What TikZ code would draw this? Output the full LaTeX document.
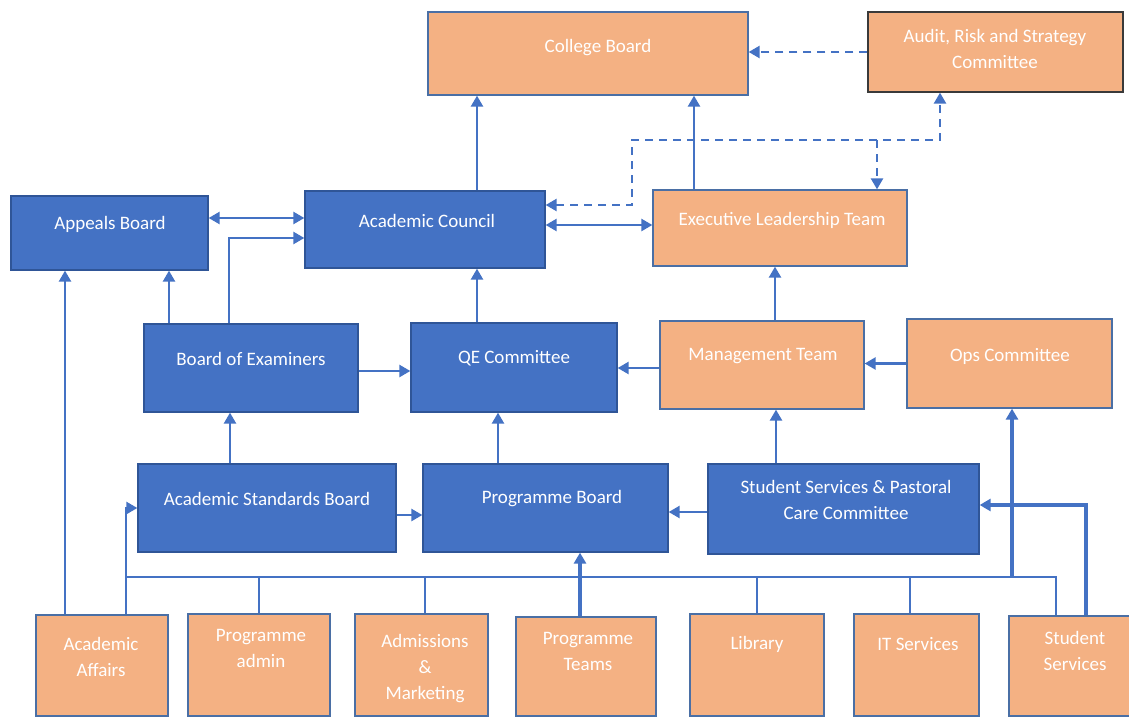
\documentclass[tikz,border=0pt]{standalone}
\usepackage{fontspec}
\setmainfont{Carlito}
\usetikzlibrary{arrows.meta,fit}
\definecolor{cblue}{HTML}{4472C4}
\definecolor{cbluedark}{HTML}{2F5597}
\definecolor{corange}{HTML}{F4B183}
\definecolor{coborder}{HTML}{4A6FA5}
\definecolor{cline}{HTML}{4472C4}
\definecolor{cdark}{HTML}{3A3A3A}
\begin{document}
\begin{tikzpicture}[x=1pt,y=-1pt,
  box/.style={rectangle, inner sep=0pt, line width=1.3pt},
  bluebox/.style={box, fill=cblue, draw=cbluedark},
  orbox/.style={box, fill=corange, draw=coborder},
  txt/.style={text=white, font=\fontsize{19}{26}\selectfont, align=center, inner sep=0pt},
  ln/.style={draw=cline, line width=2.4pt},
  thk/.style={line width=3.4pt},
  arr/.style={ln, -{Triangle[length=11pt,width=12pt]}},
  darr/.style={ln, {Triangle[length=11pt,width=12pt]}-{Triangle[length=11pt,width=12pt]}},
  dsh/.style={dash pattern=on 8pt off 6pt}]
\clip (0,0) rectangle (1129,717);
\fill[white] (0,0) rectangle (1129,717);

% boxes
\node[orbox, fit={(428,12)(748,95)}] (cb) {};
\node[orbox, draw=cdark, fit={(868,12)(1123,92)}] (ars) {};
\node[bluebox, fit={(11,196)(208,270)}] (ab) {};
\node[bluebox, fit={(305,191)(545,268)}] (ac) {};
\node[orbox, fit={(653,190)(907,266)}] (elt) {};
\node[bluebox, fit={(144,324)(358,412)}] (boe) {};
\node[bluebox, fit={(411,323)(617,412)}] (qe) {};
\node[orbox, fit={(660,321)(864,409)}] (mt) {};
\node[orbox, fit={(907,319)(1112,408)}] (ops) {};
\node[bluebox, fit={(138,464)(396,552)}] (asb) {};
\node[bluebox, fit={(423,464)(668,552)}] (pb) {};
\node[bluebox, fit={(708,464)(979,554)}] (ss) {};
\node[orbox, fit={(36,615)(168,716)}] (aa) {};
\node[orbox, fit={(188,614)(330,716)}] (pa) {};
\node[orbox, fit={(355,614)(488,716)}] (adm) {};
\node[orbox, fit={(516,617)(656,716)}] (pt) {};
\node[orbox, fit={(690,614)(824,716)}] (lib) {};
\node[orbox, fit={(854,614)(979,716)}] (it) {};
\node[orbox, fit={(1009,616)(1140,716)}] (ssv) {};

% texts
\node[txt] (cb-t) at (598,48) {College Board};
\node[txt] (ars-t) at (995,49) {Audit, Risk and Strategy\\Committee};
\node[txt] (ab-t) at (110,224) {Appeals Board};
\node[txt] (ac-t) at (427,221) {Academic Council};
\node[txt] (elt-t) at (782,220) {Executive Leadership Team};
\node[txt] (boe-t) at (251,359) {Board of Examiners};
\node[txt] (qe-t) at (514,358) {QE Committee};
\node[txt] (mt-t) at (763,356) {Management Team};
\node[txt] (ops-t) at (1010,356) {Ops Committee};
\node[txt] (asb-t) at (267,499) {Academic Standards Board};
\node[txt] (pb-t) at (552,499) {Programme Board};
\node[txt] (ss-t) at (846,500) {Student Services \& Pastoral\\Care Committee};
\node[txt] (aa-t) at (101,657) {Academic\\Affairs};
\node[txt] (pa-t) at (261,648) {Programme\\admin};
\node[txt] (adm-t) at (425,669) {Admissions\\\&\\Marketing};
\node[txt] (pt-t) at (588,651) {Programme\\Teams};
\node[txt] (lib-t) at (757,644) {Library};
\node[txt] (it-t) at (918,644) {IT Services};
\node[txt] (ssv-t) at (1075,651) {Student\\Services};

% junction coordinates
\coordinate (dj1) at (632,140);
\coordinate (dj2) at (877,140);
\coordinate (bus) at (126,577);
\coordinate (busR) at (1056,577);

% connectors, upper part
\draw[arr] ([xshift=52pt]ac.north) -- ([xshift=52pt]ac.north |- cb.south);
\draw[arr] ([xshift=-86pt]elt.north) -- ([xshift=-86pt]elt.north |- cb.south);
\draw[arr,dsh] (ars.west) -- (ars.west -| cb.east);
\draw[darr] ([yshift=15pt]ab.east) -- ([yshift=15pt]ab.east -| ac.west);
\draw[arr] ([xshift=-22pt]boe.north) |- ([yshift=-8.5pt]ac.west);
\draw[arr] ([xshift=-82pt]boe.north) -- ([xshift=-82pt]boe.north |- ab.south);
\draw[arr] ([xshift=-37pt]aa.north) -- ([xshift=-37pt]aa.north |- ab.south);
\draw[darr] ([yshift=4.5pt]ac.east) -- ([yshift=4.5pt]ac.east -| elt.west);
\draw[darr,dsh] ([yshift=24.5pt]ac.east) -| (dj1) -| ([xshift=-55.5pt]ars.south);
\draw[arr,dsh] (dj2) -- (dj2 |- elt.north);
\draw[arr] ([xshift=-37pt]qe.north) -- ([xshift=-37pt]qe.north |- ac.south);
\draw[arr] ([yshift=-3pt]boe.east) -- ([yshift=-3pt]boe.east -| qe.west);
\draw[arr] ([yshift=-3pt]mt.west) -- ([yshift=-3pt]mt.west -| qe.east);
\draw[arr] (ops.west) -- (ops.west -| mt.east);
\draw[arr] ([xshift=13pt]mt.north) -- ([xshift=13pt]mt.north |- elt.south);

% connectors, lower part
\draw[arr] ([xshift=-37pt]asb.north) -- ([xshift=-37pt]asb.north |- boe.south);
\draw[arr] ([xshift=-47.5pt]pb.north) -- ([xshift=-47.5pt]pb.north |- qe.south);
\draw[arr] ([xshift=-67.5pt]ss.north) -- ([xshift=-67.5pt]ss.north |- mt.south);
\draw[arr] ([yshift=-7pt]asb.east) -- ([yshift=-7pt]asb.east -| pb.west);
\draw[arr] ([yshift=-3pt]ss.west) -- ([yshift=-3pt]ss.west -| pb.east);
\draw[arr,thk] ([xshift=-6pt]pt.north) -- ([xshift=-6pt]pt.north |- pb.south);

% bus
\draw[arr] ([xshift=24pt]aa.north) |- (asb.west);
\draw[ln] (bus) -- (busR) -- (busR |- ssv.north);
\draw[ln] (pa.north) -- (pa.north |- bus);
\draw[ln] ([xshift=3.5pt]adm.north) -- ([xshift=3.5pt]adm.north |- bus);
\draw[ln] (lib.north) -- (lib.north |- bus);
\draw[ln] ([xshift=-6.5pt]it.north) -- ([xshift=-6.5pt]it.north |- bus);
\draw[arr,thk] ([xshift=2.5pt]ops.south |- bus) -- ([xshift=2.5pt]ops.south);
\draw[arr,thk] ([xshift=11.5pt]ssv.north) |- ([yshift=4pt]ss.east);
\end{tikzpicture}
\end{document}
